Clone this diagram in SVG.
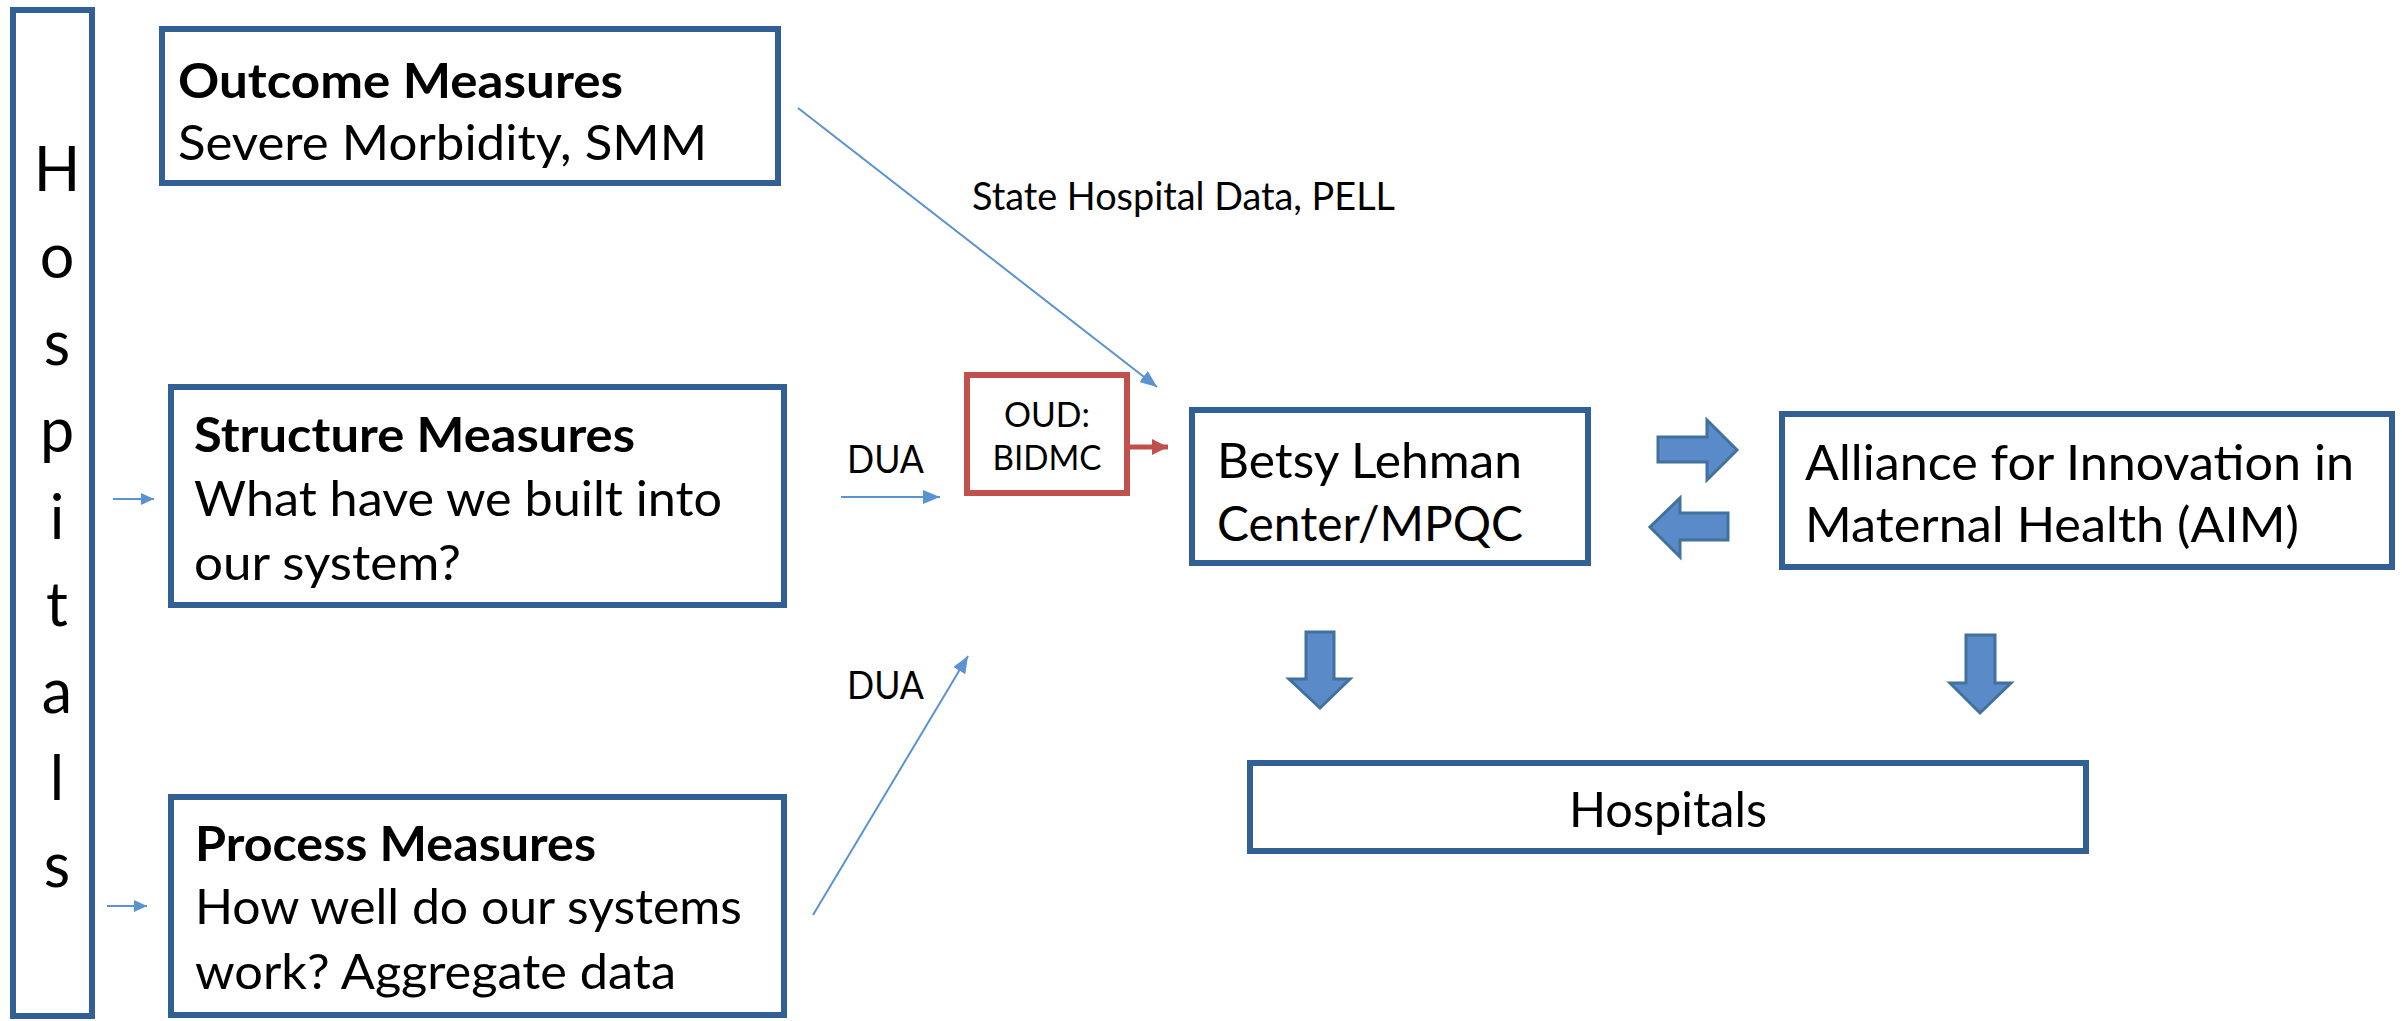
<svg xmlns="http://www.w3.org/2000/svg" width="2402" height="1021" viewBox="0 0 2402 1021">
<style>
.box{fill:#fff;stroke:#325F94;stroke-width:6}
.red{fill:#fff;stroke:#C0504D;stroke-width:6}
.t{font-family:Lato,"Liberation Sans",sans-serif;font-size:48px;fill:#000}
.b{font-weight:bold}
.lab{font-family:Lato,"Liberation Sans",sans-serif;font-size:38px;fill:#000}
.oud{font-family:Lato,"Liberation Sans",sans-serif;font-size:35px;fill:#000}
.v{font-family:Lato,"Liberation Sans",sans-serif;font-size:61px;fill:#000;text-anchor:middle}
.ln{stroke:#5A93D0;stroke-width:2;fill:none}
.blk{fill:#5A8BC8;stroke:#41719C;stroke-width:3;stroke-linejoin:miter}
</style>
<defs>
<marker id="ah" markerUnits="userSpaceOnUse" markerWidth="18" markerHeight="14" refX="17" refY="7" orient="auto">
<path d="M0,0 L17,7 L0,14 z" fill="#5A93D0"/>
</marker>
<marker id="ahs" markerUnits="userSpaceOnUse" markerWidth="14" markerHeight="12" refX="13" refY="6" orient="auto">
<path d="M0,0 L13,6 L0,12 z" fill="#5A93D0"/>
</marker>
<marker id="ahr" markerUnits="userSpaceOnUse" markerWidth="18" markerHeight="16" refX="16" refY="8" orient="auto">
<path d="M0,0 L16,8 L0,16 z" fill="#C0504D"/>
</marker>
</defs>

<g id="hospitals-side">
<rect class="box" x="13" y="10" width="79" height="1006"/>
<text class="v" x="57" y="191">H</text>
<text class="v" x="57" y="278">o</text>
<text class="v" x="57" y="365">s</text>
<text class="v" x="57" y="452">p</text>
<text class="v" x="57" y="539">i</text>
<text class="v" x="57" y="626">t</text>
<text class="v" x="57" y="713">a</text>
<text class="v" x="57" y="800">l</text>
<text class="v" x="57" y="887">s</text>
</g>

<g id="outcome">
<rect class="box" x="162" y="29" width="616" height="154"/>
<text class="t b" x="178" y="98" textLength="445" lengthAdjust="spacingAndGlyphs">Outcome Measures</text>
<text class="t" x="178" y="160" textLength="529" lengthAdjust="spacingAndGlyphs">Severe Morbidity, SMM</text>
</g>

<g id="structure">
<rect class="box" x="171" y="387" width="613" height="218"/>
<text class="t b" x="194" y="452" textLength="441" lengthAdjust="spacingAndGlyphs">Structure Measures</text>
<text class="t" x="194" y="516" textLength="528" lengthAdjust="spacingAndGlyphs">What have we built into</text>
<text class="t" x="194" y="580" textLength="267" lengthAdjust="spacingAndGlyphs">our system?</text>
</g>

<g id="process">
<rect class="box" x="171" y="797" width="613" height="218"/>
<text class="t b" x="195" y="861" textLength="401" lengthAdjust="spacingAndGlyphs">Process Measures</text>
<text class="t" x="195" y="924" textLength="547" lengthAdjust="spacingAndGlyphs">How well do our systems</text>
<text class="t" x="195" y="989" textLength="481" lengthAdjust="spacingAndGlyphs">work? Aggregate data</text>
</g>

<g id="oud">
<rect class="red" x="967" y="375" width="160" height="118"/>
<text class="oud" x="1047" y="427" text-anchor="middle" textLength="86" lengthAdjust="spacingAndGlyphs">OUD:</text>
<text class="oud" x="1047" y="470" text-anchor="middle" textLength="109" lengthAdjust="spacingAndGlyphs">BIDMC</text>
</g>

<g id="betsy">
<rect class="box" x="1192" y="410" width="396" height="153"/>
<text class="t" x="1217" y="478" textLength="305" lengthAdjust="spacingAndGlyphs">Betsy Lehman</text>
<text class="t" x="1217" y="541" textLength="306" lengthAdjust="spacingAndGlyphs">Center/MPQC</text>
</g>

<g id="aim">
<rect class="box" x="1782" y="414" width="610" height="153"/>
<text class="t" x="1805" y="480" textLength="549" lengthAdjust="spacingAndGlyphs">Alliance for Innovation in</text>
<text class="t" x="1805" y="542" textLength="494" lengthAdjust="spacingAndGlyphs">Maternal Health (AIM)</text>
</g>

<g id="hospitals-bottom">
<rect class="box" x="1250" y="763" width="836" height="88"/>
<text class="t" x="1668" y="827" text-anchor="middle" textLength="198" lengthAdjust="spacingAndGlyphs">Hospitals</text>
</g>

<g id="connectors">
<line class="ln" x1="113" y1="499" x2="154" y2="499" marker-end="url(#ahs)"/>
<line class="ln" x1="107" y1="906" x2="147" y2="906" marker-end="url(#ahs)"/>
<line class="ln" x1="798" y1="108" x2="1157" y2="387" marker-end="url(#ah)"/>
<line class="ln" x1="841" y1="497" x2="940" y2="497" marker-end="url(#ah)"/>
<line class="ln" x1="813" y1="915" x2="968" y2="656" marker-end="url(#ah)"/>
<line x1="1129" y1="447" x2="1168" y2="447" stroke="#C0504D" stroke-width="5" marker-end="url(#ahr)"/>
<polygon class="blk" points="1658,437 1707,437 1707,420 1737,450 1707,480 1707,462 1658,462"/>
<polygon class="blk" points="1728,513 1680,513 1680,498 1650,527 1680,557 1680,540 1728,540"/>
<polygon class="blk" points="1306,632 1334,632 1334,679 1350,679 1320,708 1289,679 1306,679"/>
<polygon class="blk" points="1966,635 1995,635 1995,683 2011,683 1980,713 1950,683 1966,683"/>
<text class="lab" x="972" y="210" textLength="423" lengthAdjust="spacingAndGlyphs">State Hospital Data, PELL</text>
<text class="lab" x="847" y="473" textLength="77" lengthAdjust="spacingAndGlyphs">DUA</text>
<text class="lab" x="847" y="699" textLength="77" lengthAdjust="spacingAndGlyphs">DUA</text>
</g>
</svg>
